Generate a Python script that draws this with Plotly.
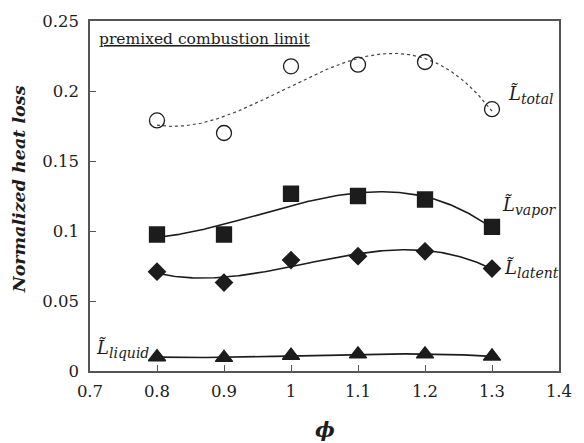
import numpy as np
import plotly.graph_objects as go

phi = [0.8, 0.9, 1.0, 1.1, 1.2, 1.3]
L_total = [0.179, 0.170, 0.2176, 0.2188, 0.2207, 0.187]
L_vapor = [0.0975, 0.0975, 0.1266, 0.125, 0.1225, 0.103]
L_latent = [0.0709, 0.0632, 0.0792, 0.082, 0.0855, 0.0732]
L_liquid = [0.010, 0.0095, 0.011, 0.012, 0.012, 0.0105]

x_ticks = [0.7, 0.8, 0.9, 1.0, 1.1, 1.2, 1.3, 1.4]
y_ticks = [0, 0.05, 0.1, 0.15, 0.2, 0.25]

ink = "#1c1c1c"
serif = "DejaVu Serif"

fig = go.Figure()
xf = np.linspace(min(phi), max(phi), 200)

series = [
    (L_total, "circle-open", 15, "dot"),
    (L_vapor, "square", 15, "solid"),
    (L_latent, "diamond", 13, "solid"),
    (L_liquid, "triangle-up", 15, "solid"),
]
for ys, sym, sz, dash in series:
    coef = np.polyfit(phi, ys, 3)
    fig.add_trace(go.Scatter(x=xf, y=np.polyval(coef, xf), mode="lines",
                             line=dict(color=ink if dash == "solid" else "#444444",
                                       width=1.6 if dash == "solid" else 1.2, dash=dash),
                             hoverinfo="skip", showlegend=False))
    fig.add_trace(go.Scatter(x=phi, y=ys, mode="markers",
                             marker=dict(symbol=sym, size=sz, color=ink,
                                         line=dict(color=ink, width=1.3)),
                             showlegend=False))

labels = [
    ("total", 0.1975, 514),
    ("vapor", 0.1182, 508),
    ("latent", 0.0730, 510),
    ("liquid", 0.0155, 94),
]
for sub, yv, px in labels:
    fig.add_annotation(x=(px - 90) / 478, xref="paper", y=yv, yref="y",
                       text="<i>L\u0303</i><sub><i><span style='font-size:14px'>" + sub + "</span></i></sub>",
                       showarrow=False, xanchor="left", yanchor="middle",
                       font=dict(family=serif, size=18, color=ink))

fig.add_annotation(x=(97 - 90) / 478, xref="paper", y=0.237, yref="y",
                   text="<u>premixed combustion limit</u>", showarrow=False,
                   xanchor="left", yanchor="middle",
                   font=dict(family=serif, size=15.5, color=ink))

fig.add_annotation(x=-72 / 478, xref="paper", y=0.52, yref="paper",
                   text="<b><i>Normalized heat loss</i></b>", textangle=-90,
                   showarrow=False, xanchor="center", yanchor="middle",
                   font=dict(family=serif, size=17.5, color=ink))
fig.add_annotation(x=(330 - 90) / 478, xref="paper", y=-(430 - 371) / 355, yref="paper",
                   text="<b><i>\u03d5</i></b>", showarrow=False,
                   xanchor="center", yanchor="middle",
                   font=dict(family=serif, size=21, color=ink))

axis_common = dict(showline=True, mirror=True, linecolor="#555555", linewidth=1.5,
                   ticks="inside", ticklen=6, tickcolor="#555555", tickwidth=1.2,
                   showgrid=False, zeroline=False,
                   tickfont=dict(family=serif, size=16.5, color=ink))
fig.update_xaxes(range=[0.7, 1.4], tickvals=x_ticks,
                 ticktext=[("%g" % v) for v in x_ticks], ticklabelstandoff=4, **axis_common)
fig.update_yaxes(range=[0, 0.25], tickvals=y_ticks,
                 ticktext=[("%g" % v) for v in y_ticks], ticklabelstandoff=6, **axis_common)

fig.update_layout(width=584, height=443, margin=dict(l=90, r=16, t=16, b=72),
                  plot_bgcolor="white", paper_bgcolor="white",
                  font=dict(family=serif, color=ink))
fig.write_html("out.html")
